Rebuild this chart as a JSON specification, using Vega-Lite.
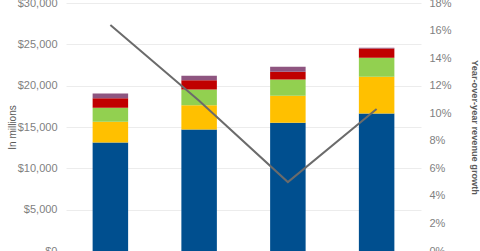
{
  "$schema": "https://vega.github.io/schema/vega-lite/v6.json",
  "autosize": {"type": "none"},
  "padding": {"left": 66, "top": 3, "right": 59, "bottom": 0},
  "width": 355,
  "height": 248,
  "background": "white",
  "config": {
    "view": {"stroke": null},
    "font": "Liberation Sans",
    "axis": {"labelFont": "Liberation Sans", "titleFont": "Liberation Sans"}
  },
  "datasets": {
    "rev": [
      {"year": "2014", "segment": "A", "ord": 1, "value": 13120},
      {"year": "2014", "segment": "B", "ord": 2, "value": 2500},
      {"year": "2014", "segment": "C", "ord": 3, "value": 1700},
      {"year": "2014", "segment": "D", "ord": 4, "value": 1170},
      {"year": "2014", "segment": "E", "ord": 5, "value": 570},
      {"year": "2015", "segment": "A", "ord": 1, "value": 14700},
      {"year": "2015", "segment": "B", "ord": 2, "value": 2940},
      {"year": "2015", "segment": "C", "ord": 3, "value": 1900},
      {"year": "2015", "segment": "D", "ord": 4, "value": 1125},
      {"year": "2015", "segment": "E", "ord": 5, "value": 520},
      {"year": "2016", "segment": "A", "ord": 1, "value": 15500},
      {"year": "2016", "segment": "B", "ord": 2, "value": 3270},
      {"year": "2016", "segment": "C", "ord": 3, "value": 1985},
      {"year": "2016", "segment": "D", "ord": 4, "value": 920},
      {"year": "2016", "segment": "E", "ord": 5, "value": 605},
      {"year": "2017", "segment": "A", "ord": 1, "value": 16640},
      {"year": "2017", "segment": "B", "ord": 2, "value": 4430},
      {"year": "2017", "segment": "C", "ord": 3, "value": 2300},
      {"year": "2017", "segment": "D", "ord": 4, "value": 1140},
      {"year": "2017", "segment": "E", "ord": 5, "value": 80}
    ],
    "growth": [
      {"year": "2014", "growth": 0.164},
      {"year": "2015", "growth": 0.109},
      {"year": "2016", "growth": 0.050},
      {"year": "2017", "growth": 0.103}
    ]
  },
  "encoding": {
    "x": {
      "field": "year",
      "type": "nominal",
      "axis": null,
      "scale": {"paddingInner": 0.6, "paddingOuter": 0.3}
    }
  },
  "layer": [
    {
      "data": {"name": "rev"},
      "mark": {"type": "bar"},
      "encoding": {
        "y": {
          "field": "value",
          "type": "quantitative",
          "aggregate": "sum",
          "stack": "zero",
          "scale": {"domain": [0, 30000], "nice": false},
          "axis": {
            "title": "In millions",
            "values": [0, 5000, 10000, 15000, 20000, 25000, 30000],
            "format": "$,.0f",
            "labelFontSize": 11,
            "labelColor": "#7f7f7f",
            "labelPadding": 9,
            "ticks": false,
            "domain": false,
            "grid": true,
            "gridColor": "#ececec",
            "gridWidth": 1,
            "titleFontSize": 10,
            "titleFontWeight": "normal",
            "titleColor": "#595959",
            "titlePadding": 0
          }
        },
        "color": {
          "field": "segment",
          "type": "nominal",
          "legend": null,
          "scale": {
            "domain": ["A", "B", "C", "D", "E"],
            "range": ["#004f8f", "#ffc000", "#92d050", "#c00000", "#8e5580"]
          }
        },
        "order": {"field": "ord", "type": "quantitative"}
      }
    },
    {
      "data": {"name": "growth"},
      "mark": {"type": "line", "color": "#6b6b6b", "strokeWidth": 2},
      "encoding": {
        "y": {
          "field": "growth",
          "type": "quantitative",
          "scale": {"domain": [0, 0.18], "nice": false},
          "axis": {
            "orient": "right",
            "title": "Year-over-year revenue growth",
            "values": [0, 0.02, 0.04, 0.06, 0.08, 0.1, 0.12, 0.14, 0.16, 0.18],
            "format": ".0%",
            "labelFontSize": 11,
            "labelColor": "#7f7f7f",
            "labelPadding": 8,
            "ticks": false,
            "domain": false,
            "grid": false,
            "titleFontSize": 9.2,
            "titleFontWeight": "bold",
            "titleColor": "#595959",
            "titlePadding": 18
          }
        }
      }
    }
  ],
  "resolve": {"scale": {"y": "independent"}}
}
